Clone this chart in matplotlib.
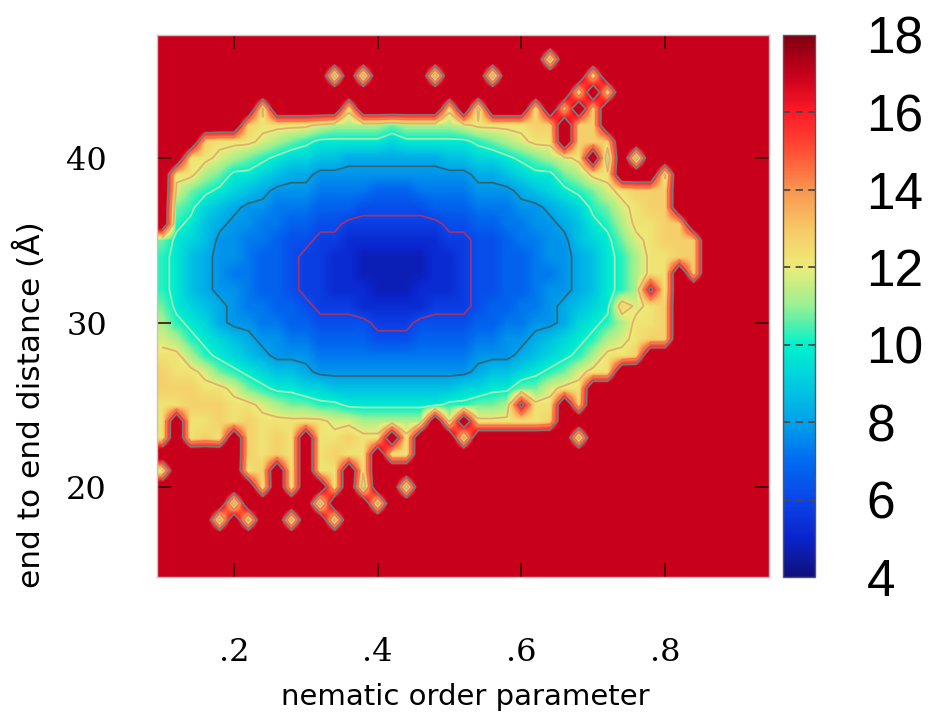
import numpy as np
import matplotlib
matplotlib.use("Agg")
import matplotlib.pyplot as plt
from matplotlib.colors import LinearSegmentedColormap, Normalize
from matplotlib.cm import ScalarMappable

# --- DATA -------------------------------------------------------------
# free energy histogram
# bins: nematic order 0.10 .. 0.94 (step 0.02), distance 15 .. 47 A (step 1)
x_centers = 0.10 + 0.02 * np.arange(43)
y_centers = 15.0 + np.arange(33)

# one character per bin: '0' = 4.75, each next code +0.5 ; '.' = empty bin
CODES = "0123456789ABCDEFGHIJKLMNO"
EMPTY = 19.0

# rows from top (47 A) to bottom (15 A), 43 bins each
fe_rows = [
    "." * 43,
    "." * 27 + "D" + "." * 15,
    "." * 12 + "C.C....C...C......F" + "." * 12,
    "." * 29 + "F.F" + "." * 11,
    "." * 7 + "E.....F......F.D...F.G.G" + "." * 12,
    "." * 6 + "GFFFFEDDDDCDDDDEFFFFGG" + ".GG" + "." * 12,
    "..." + "GFFFEDCBAAAAA9AAAAABCDEFF" + ".GGG" + "." * 11,
    ".." + "FFEDCBA9988777777788" + "99ABCDEF" + ".C.C" + "." * 9,
    "." + "FFDCAA9877" + "66666666666" + "7789AACDFF" + "...E" + "." * 7,
    "." + "ECBA987666" + "55554445555" + "666789ABCEFGGG" + "." * 7,
    "." + "CB98766555" + "44433333444" + "55566789BCEFGG" + "." * 7,
    "." + "BA87665544" + "33222222233" + "44556678ABDFFGG" + "." * 6,
    "CA98665543" + "32211111112" + "2334556689ACEFGGG" + "." * 5,
    "BA87665443" + "22110000011" + "2334456678ABDFFGG" + "." * 5,
    "BA87655443" + "22110000011" + "2334455678ABDFF" + ".G" + "." * 5,
    "BA87665443" + "22111000111" + "2334456678ABDOF" + "." * 7,
    "CA98765544" + "32221111122" + "2344556789AGEFG" + "." * 7,
    "DBA9766554" + "43333222333" + "344556679ABDFFG" + "." * 7,
    "EDBA987665" + "54444333444" + "45566789ABDEFGG" + "." * 7,
    "FFDBA98766" + "65555555555" + "5666789ABDFFG" + "." * 9,
    "GFFECBA988" + "76666666666" + "67889ABCEFF" + "." * 11,
    "GGGFFECBAA" + "99888888888" + "99AACCEFF" + "." * 13,
    "FFGGGFFEDC" + "CBBAAAAAAAB" + "BCCDOFF.G" + "." * 13,
    "F.FFGFGFFFFFEEDDDDD.E.FFFFFG" + "." * 15,
    "F.FGF.GFGF.FFGFF.F...D.......D" + "." * 13,
    "......GFGF.FGFF.FF" + "." * 25,
    "E.....FG.F.FF.F" + "." * 28,
    ".......F.F..F.C..C" + "." * 25,
    ".....C.....C...D" + "." * 27,
    "....C.D..D..D" + "." * 30,
    "." * 43,
    "." * 43,
    "." * 43,
]

# colour scale (sampled from the colour bar)
cmap_values = [4, 5, 6, 7, 8, 9, 10, 11, 12, 13, 14, 15, 16, 17, 18]
cmap_colors = ["#10107c", "#0a24cc", "#0a46ea", "#006cf0", "#00a2ea",
               "#00cce0", "#00f2cc", "#98f092", "#ecec78", "#f8c866",
               "#f89650", "#ff5034", "#ff1a26", "#c8001c", "#800010"]
empty_color = "#c8001c"

contour_levels = [6, 8, 10, 12, 14, 16]
contour_colors = ["#9c3474", "#2e6878", "#a6eab4", "#e0b070", "#f07850", "#7a7a7a"]

x_ticks = [0.2, 0.4, 0.6, 0.8]
x_ticklabels = [".2", ".4", ".6", ".8"]
y_ticks = [20, 30, 40]
cbar_ticks = [4, 6, 8, 10, 12, 14, 16, 18]


def decode(row):
    row = row.ljust(43, ".")[:43]
    return [EMPTY if ch == "." else 4.75 + 0.5 * CODES.index(ch) for ch in row]


free_energy = np.array([decode(r) for r in fe_rows[::-1]])

lo, hi = cmap_values[0], cmap_values[-1]
norm = Normalize(lo, hi)
stops = [(v - lo) / (hi - lo) for v in cmap_values]
cmap = LinearSegmentedColormap.from_list("fe", list(zip(stops, cmap_colors)))
# the map itself: empty bins (and everything above 17) in the plain red
img_colors = cmap_colors[:-1] + [empty_color]
cmap_img = LinearSegmentedColormap.from_list("fe_img", list(zip(stops, img_colors)))
cmap_img.set_over(empty_color)

# --- PLOT -------------------------------------------------------------
fig = plt.figure(figsize=(9.34, 7.15), dpi=100)
ax = fig.add_axes([157 / 934, 138 / 715, 612 / 934, 542 / 715])
cax = fig.add_axes([783 / 934, 138 / 715, 32 / 934, 542 / 715])

ax.imshow(free_energy, origin="lower", cmap=cmap_img, norm=norm,
          extent=(0.09, 0.95, 14.5, 47.5), interpolation="bilinear",
          aspect="auto")
ax.contour(x_centers, y_centers, free_energy, levels=contour_levels,
           colors=contour_colors, linewidths=1.3)

ax.set_xlim(0.0928, 0.9448)
ax.set_ylim(14.53, 47.48)

ax.set_xticks(x_ticks)
ax.set_xticklabels(x_ticklabels)
ax.set_yticks(y_ticks)
ax.tick_params(direction="in", length=10, width=1.2, color="#3a0a0a",
               top=True, right=True, labelsize=23)
ax.tick_params(axis="x", pad=43)
ax.tick_params(axis="y", pad=36)
for lab in ax.get_xticklabels() + ax.get_yticklabels():
    lab.set_fontfamily("DejaVu Serif")
for sp in ax.spines.values():
    sp.set_edgecolor("#c4c4c4")
    sp.set_linewidth(1.0)

cb = fig.colorbar(ScalarMappable(norm=norm, cmap=cmap), cax=cax, ticks=cbar_ticks)
cax.tick_params(length=0, pad=37, labelsize=37)
for lab in cax.get_yticklabels():
    lab.set_fontfamily("Liberation Sans")
for lv in contour_levels:
    cax.axhline(lv, color="#4a4a4a", lw=1.3, ls=(0, (4, 3)))
cb.outline.set_edgecolor("#555555")
cb.outline.set_linewidth(1.0)

fig.text(0.498, 0.006, "nematic order parameter", ha="center", va="bottom",
         fontsize=21, family="DejaVu Sans")
fig.text(0.032, 0.434, "end to end distance (Å)", ha="center", va="center",
         rotation=90, fontsize=22.5, family="DejaVu Sans")

fig.savefig("out.png", dpi=100)
